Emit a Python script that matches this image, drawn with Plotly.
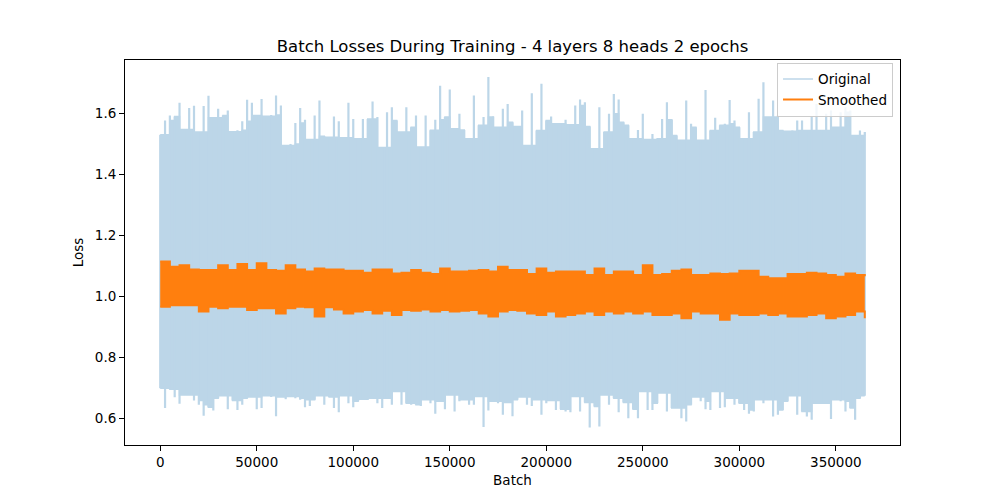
import plotly.graph_objects as go

# ---- data (envelopes of the dense noisy series) ----
batch_orig = list(range(0, 365001, 2500))
orig_hi = [
    1.53, 1.577, 1.593, 1.59, 1.635, 1.547, 1.618, 1.625, 1.539, 1.624, 1.658, 1.586, 1.615, 1.593, 1.610, 1.54,
    1.545, 1.574, 1.645, 1.635, 1.593, 1.647, 1.591, 1.595, 1.659, 1.626, 1.495, 1.50, 1.569, 1.618, 1.579, 1.515,
    1.593, 1.642, 1.525, 1.522,
    1.590, 1.574, 1.52, 1.635, 1.582, 1.517, 1.582, 1.582, 1.639, 1.588, 1.488, 1.604, 1.620, 1.577, 1.539, 1.620,
    1.555, 1.593, 1.490, 1.593, 1.545, 1.579, 1.691, 1.588, 1.678, 1.550, 1.599, 1.546, 1.517, 1.659, 1.561, 1.588,
    1.719, 1.590, 1.555, 1.615, 1.631,
    1.571, 1.557, 1.610, 1.495, 1.666, 1.544, 1.697, 1.577, 1.590, 1.566, 1.569, 1.579, 1.563, 1.626, 1.646, 1.637,
    1.557, 1.484, 1.620, 1.539, 1.599, 1.664, 1.646, 1.571, 1.561, 1.517, 1.546, 1.599, 1.515, 1.533, 1.517, 1.582,
    1.637, 1.579, 1.528, 1.512, 1.642,
    1.566, 1.555, 1.512, 1.677, 1.544, 1.586, 1.561, 1.566, 1.644, 1.577, 1.555, 1.517, 1.604, 1.539, 1.648, 1.702,
    1.588, 1.642, 1.593, 1.544, 1.542, 1.544, 1.577, 1.577, 1.544, 1.588, 1.631, 1.544, 1.599, 1.610, 1.555, 1.604,
    1.620, 1.610, 1.528, 1.544, 1.539,
]
orig_lo = [
    0.70, 0.635, 0.697, 0.67, 0.649, 0.678, 0.678, 0.660, 0.646, 0.610, 0.638, 0.627, 0.667, 0.675, 0.631, 0.660,
    0.629, 0.646, 0.667, 0.671, 0.631, 0.635, 0.675, 0.671, 0.608, 0.671, 0.664, 0.673, 0.667, 0.662, 0.638, 0.642,
    0.662, 0.675, 0.646, 0.671,
    0.635, 0.621, 0.675, 0.651, 0.638, 0.657, 0.664, 0.662, 0.667, 0.651, 0.635, 0.667, 0.646, 0.689, 0.646, 0.651,
    0.646, 0.646, 0.642, 0.662, 0.651, 0.616, 0.657, 0.631, 0.678, 0.624, 0.657, 0.662, 0.646, 0.646, 0.673, 0.573,
    0.627, 0.657, 0.651, 0.613, 0.653,
    0.608, 0.662, 0.671, 0.646, 0.642, 0.662, 0.613, 0.651, 0.660, 0.629, 0.631, 0.624, 0.621, 0.673, 0.624, 0.653,
    0.571, 0.640, 0.575, 0.678, 0.646, 0.667, 0.621, 0.653, 0.602, 0.631, 0.602, 0.689, 0.629, 0.629, 0.651, 0.684,
    0.624, 0.635, 0.635, 0.602, 0.591,
    0.646, 0.671, 0.657, 0.631, 0.629, 0.689, 0.635, 0.638, 0.667, 0.646, 0.651, 0.629, 0.616, 0.624, 0.662, 0.651,
    0.662, 0.607, 0.613, 0.629, 0.657, 0.675, 0.613, 0.624, 0.607, 0.597, 0.651, 0.651, 0.649, 0.599, 0.662, 0.657,
    0.624, 0.635, 0.597, 0.667, 0.675,
]

batch_smooth = list(range(0, 365001, 5000))
smooth_hi = [
    1.115, 1.098, 1.103, 1.089, 1.087, 1.087, 1.103, 1.087, 1.107, 1.087, 1.109, 1.087, 1.085, 1.103, 1.089, 1.082,
    1.092, 1.089,
    1.089, 1.085, 1.085, 1.078, 1.089, 1.089, 1.076, 1.078, 1.087, 1.078, 1.074, 1.092, 1.082, 1.082, 1.085, 1.087,
    1.082, 1.098, 1.087,
    1.087, 1.074, 1.092, 1.078, 1.082, 1.082, 1.082, 1.071, 1.092, 1.071, 1.082, 1.082, 1.071, 1.103, 1.071, 1.074,
    1.085, 1.089,
    1.071, 1.071, 1.076, 1.074, 1.076, 1.085, 1.085, 1.065, 1.060, 1.060, 1.074, 1.074, 1.078, 1.076, 1.071, 1.065,
    1.076, 1.071, 1.067,
]
smooth_lo = [
    0.967, 0.972, 0.972, 0.972, 0.951, 0.967, 0.962, 0.967, 0.967, 0.956, 0.962, 0.962, 0.945, 0.962, 0.967, 0.965,
    0.935, 0.965,
    0.958, 0.945, 0.951, 0.956, 0.945, 0.954, 0.940, 0.956, 0.954, 0.958, 0.951, 0.956, 0.951, 0.954, 0.956, 0.945,
    0.935, 0.951, 0.956,
    0.954, 0.945, 0.940, 0.951, 0.935, 0.940, 0.945, 0.951, 0.940, 0.951, 0.945, 0.951, 0.945, 0.951, 0.940, 0.940,
    0.945, 0.929,
    0.951, 0.945, 0.945, 0.924, 0.945, 0.940, 0.940, 0.945, 0.940, 0.945, 0.935, 0.935, 0.940, 0.945, 0.929, 0.935,
    0.940, 0.951, 0.929,
]

x_ticks = [0, 50000, 100000, 150000, 200000, 250000, 300000, 350000]
y_ticks = [0.6, 0.8, 1.0, 1.2, 1.4, 1.6]

BLUE = "rgb(188,214,232)"
ORANGE = "#ff7f0e"
FONT = "DejaVu Sans"

# solid body of the noisy band: each step reaches only as far as the lowest of its neighbouring reads,
# the individual reads then stick out as thin vertical spikes
n = len(batch_orig)
def _nb(i):
    return [max(i - 1, 0), i, min(i + 1, n - 1)]
body_hi = [min(orig_hi[j] for j in _nb(i)) for i in range(n)]
body_lo = [max(orig_lo[j] for j in _nb(i)) for i in range(n)]
spike_x, spike_y = [], []
for b, lo, hi in zip(batch_orig, orig_lo, orig_hi):
    spike_x += [b, b, None]
    spike_y += [lo, hi, None]

fig = go.Figure()
fig.add_trace(go.Scatter(x=batch_orig, y=body_hi, mode="lines", name="Original",
                         line=dict(color=BLUE, width=1.5, shape="hv")))
fig.add_trace(go.Scatter(x=batch_orig, y=body_lo, mode="lines", showlegend=False,
                         line=dict(color=BLUE, width=1.5, shape="hv"),
                         fill="tonexty", fillcolor=BLUE))
fig.add_trace(go.Scatter(x=spike_x, y=spike_y, mode="lines", showlegend=False,
                         line=dict(color=BLUE, width=2.2)))
fig.add_trace(go.Scatter(x=batch_smooth, y=smooth_hi, mode="lines", name="Smoothed",
                         line=dict(color=ORANGE, width=2, shape="hv")))
fig.add_trace(go.Scatter(x=batch_smooth, y=smooth_lo, mode="lines", showlegend=False,
                         line=dict(color=ORANGE, width=2, shape="hv"),
                         fill="tonexty", fillcolor=ORANGE))

axis_common = dict(showline=True, linecolor="black", linewidth=1, mirror=True,
                   ticks="outside", ticklen=5, tickwidth=1, tickcolor="black",
                   showgrid=False, zeroline=False,
                   tickfont=dict(family=FONT, size=13.5, color="black"))

fig.update_layout(
    width=1000, height=500,
    paper_bgcolor="white", plot_bgcolor="white",
    margin=dict(l=125, r=100, t=60, b=55),
    font=dict(family=FONT, color="black"),
    title=dict(text="Batch Losses During Training - 4 layers 8 heads 2 epochs",
               x=0.5125, xanchor="center", y=1 - 46 / 500, yanchor="middle", yref="container",
               font=dict(family=FONT, size=16.5, color="black")),
    xaxis=dict(range=[-18250, 383250], tickvals=x_ticks, ticktext=[str(v) for v in x_ticks],
               title=dict(text="Batch", font=dict(family=FONT, size=13.5), standoff=6),
               **axis_common),
    yaxis=dict(range=[0.514, 1.775], tickvals=y_ticks, ticktext=[f"{v:.1f}" for v in y_ticks],
               title=dict(text="Loss", font=dict(family=FONT, size=13.5), standoff=8),
               **axis_common),
    legend=dict(x=0.991, xanchor="right", y=0.993, yanchor="top", traceorder="normal",
                bgcolor="rgba(255,255,255,0.8)", bordercolor="#cccccc", borderwidth=1,
                font=dict(family=FONT, size=13.5, color="black"),
                tracegroupgap=0, itemwidth=30),
    showlegend=True,
)

fig.write_html("out.html", config={"displayModeBar": False},
               post_script="document.body.style.margin='0px';")
